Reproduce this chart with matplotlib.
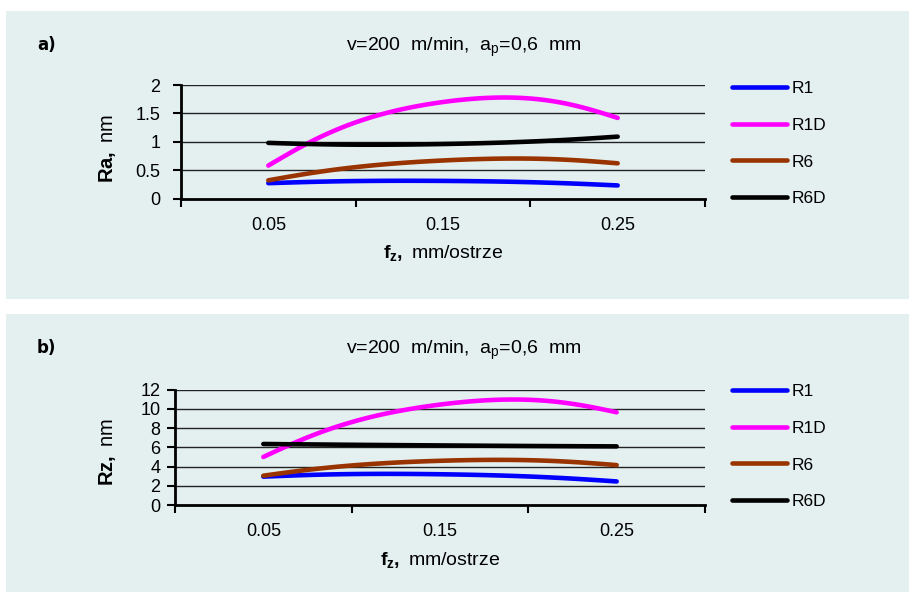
import numpy as np
import matplotlib
matplotlib.use("Agg")
import matplotlib.pyplot as plt
from matplotlib.patches import Rectangle

plt.rcParams["font.family"] = ["Liberation Sans", "DejaVu Sans"]
plt.rcParams["mathtext.fontset"] = "custom"
plt.rcParams["mathtext.rm"] = "Liberation Sans"
plt.rcParams["mathtext.bf"] = "Liberation Sans:bold"
plt.rcParams["mathtext.it"] = "Liberation Sans:italic"

# feed per tooth categories
fz = ["0.05", "0.15", "0.25"]
series = ["R1", "R1D", "R6", "R6D"]

ra_r1 = [0.27, 0.31, 0.23]
ra_r1d = [0.58, 1.70, 1.42]
ra_r6 = [0.32, 0.67, 0.62]
ra_r6d = [0.98, 0.96, 1.09]

rz_r1 = [2.95, 3.20, 2.45]
rz_r1d = [5.00, 10.45, 9.65]
rz_r6 = [3.05, 4.60, 4.15]
rz_r6d = [6.35, 6.20, 6.10]

ra_ticks = [0, 0.5, 1, 1.5, 2]
ra_ticklabels = ["0", "0.5", "1", "1.5", "2"]
rz_ticks = [0, 2, 4, 6, 8, 10, 12]

COLORS = ["#0000FF", "#FF00FF", "#993300", "#000000"]
BG = "#E4F0F0"

W, H = 909, 592


def smooth(y, k=1.5, n=60):
    # cubic bezier through the points; interior tangents along the
    # neighbour chord, free (zero curvature) ends
    x = np.arange(len(y), dtype=float)
    pts = np.column_stack([x, np.asarray(y, dtype=float)])
    m = len(pts)
    tan = np.zeros_like(pts)
    for i in range(1, m - 1):
        tan[i] = k * (pts[i + 1] - pts[i - 1]) / 2.0
    tan[0] = (3 * (pts[1] - pts[0]) - tan[1]) / 2.0
    tan[-1] = (3 * (pts[-1] - pts[-2]) - tan[-2]) / 2.0
    t = np.linspace(0, 1, n)[:, None]
    out = []
    for i in range(m - 1):
        p0, p3 = pts[i], pts[i + 1]
        c1 = p0 + tan[i] / 3.0
        c2 = p3 - tan[i + 1] / 3.0
        seg = ((1 - t) ** 3) * p0 + 3 * ((1 - t) ** 2) * t * c1 + 3 * (1 - t) * t ** 2 * c2 + t ** 3 * p3
        out.append(seg if i == 0 else seg[1:])
    out = np.vstack(out)
    return out[:, 0], out[:, 1]


def px_axes(fig, left, top, right, bottom):
    return fig.add_axes([left / W, 1 - bottom / H, (right - left) / W, (bottom - top) / H])


def draw_panel(fig, box, axbox, letter, ylabel, ylabel_y, data, yticks, yticklabels, ymax,
               ypad, legend_top):
    x0, y0, x1, y1 = box
    fig.patches.append(Rectangle((x0 / W, 1 - y1 / H), (x1 - x0) / W, (y1 - y0) / H,
                                 transform=fig.transFigure, facecolor=BG, edgecolor="none", zorder=-10))
    ax = px_axes(fig, *axbox)
    ax.set_facecolor("none")
    lines = []
    for vals, col, name in zip(data, COLORS, series):
        xs, ys = smooth(vals)
        ln, = ax.plot(xs, ys, color=col, lw=3.3, solid_capstyle="round", label=name, zorder=3)
        lines.append(ln)
    ax.set_xlim(-0.5, len(fz) - 0.5)
    ax.set_ylim(0, ymax)
    ax.set_yticks(yticks)
    ax.set_yticklabels(yticklabels, fontsize=13)
    ax.set_xticks(np.arange(len(fz)))
    ax.set_xticklabels(fz, fontsize=13)
    ax.set_xticks(np.arange(len(fz) + 1) - 0.5, minor=True)
    ax.tick_params(axis="x", which="major", length=0, pad=13)
    ax.tick_params(axis="x", which="minor", length=6, width=1.5, direction="out")
    ax.tick_params(axis="y", length=6, width=1.5, direction="out", pad=ypad)
    for yt in yticks[1:]:
        ax.axhline(yt, color="#222222", lw=1.0, zorder=1)
    for s in ["top", "right"]:
        ax.spines[s].set_visible(False)
    ax.spines["left"].set_linewidth(2)
    ax.spines["bottom"].set_linewidth(2)
    ax.set_xlabel(r"$\mathbf{f_z,}$ mm/ostrze", fontsize=14, labelpad=7)

    fig.text(107 / W, 1 - ylabel_y / H, ylabel, fontsize=14.5, rotation=90,
             va="center", ha="center")
    fig.text(37 / W, 1 - (y0 + 34) / H, letter, fontsize=12, fontweight="bold",
             family="DejaVu Sans", va="center", ha="left")
    fig.text(464 / W, 1 - (y0 + 36) / H, r"v=200  m/min,  a$_\mathrm{p}$=0,6  mm",
             fontsize=14, va="center", ha="center")

    fig.legend(handles=lines, loc="upper left", bbox_to_anchor=(732 / W, 1 - legend_top / H),
               frameon=False, fontsize=12.5, handlelength=3.15, handletextpad=0.3,
               labelspacing=1.24, borderpad=0, borderaxespad=0)
    return ax


fig = plt.figure(figsize=(W / 100, H / 100), dpi=100)
fig.patch.set_facecolor("white")

draw_panel(fig, (6, 11, 909, 299), (181, 85, 705, 198.5), "a)", r"$\mathbf{Ra,}$ nm", 149,
           [ra_r1, ra_r1d, ra_r6, ra_r6d], ra_ticks, ra_ticklabels, 2, 9, 81)
draw_panel(fig, (6, 314, 909, 592), (175, 389.7, 705, 505), "b)", r"$\mathbf{Rz,}$ nm", 452,
           [rz_r1, rz_r1d, rz_r6, rz_r6d], rz_ticks, [str(v) for v in rz_ticks], 12, 4.5, 384)

fig.savefig("out.png", dpi=100)
